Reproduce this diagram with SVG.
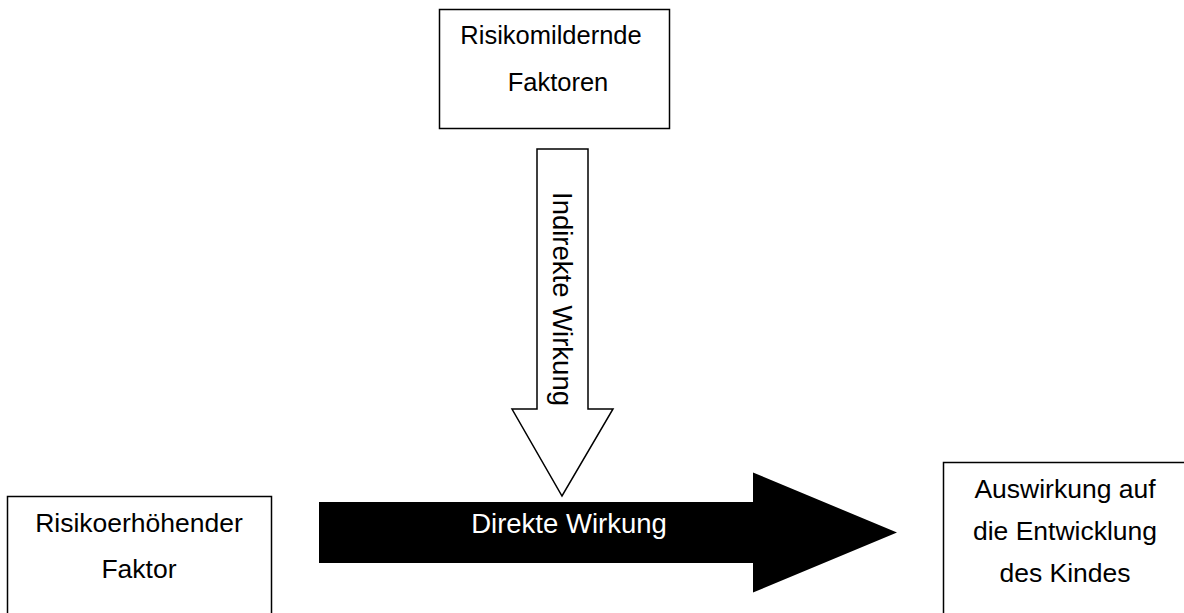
<svg xmlns="http://www.w3.org/2000/svg" width="1184" height="613" viewBox="0 0 1184 613">
<style>
.box{fill:#fff;stroke:#000;stroke-width:1.5}
.t{font-family:"Liberation Sans",Arial,sans-serif;font-size:26px;fill:#000;text-anchor:middle}
.w{fill:#fff}
</style>
<rect width="1184" height="613" fill="#fff"/>
<g id="connectors">
<g id="indirect">
<path d="M537,149 H588 V409 H613 L562,496 L512,409 H537 Z" fill="#fff" stroke="#000" stroke-width="1.5"/>
<text class="t" transform="translate(553,299) rotate(90)" style="font-size:27.5px">Indirekte Wirkung</text>
</g>
<g id="direct">
<path d="M319,502 H753 V472.5 L897,532.5 L753,592.5 V563 H319 Z" fill="#000"/>
<text class="t w" x="569" y="533" style="font-size:27.5px">Direkte Wirkung</text>
</g>
</g>
<g id="node-top">
<rect class="box" x="439.5" y="9.5" width="230" height="119"/>
<text class="t" x="551" y="44" style="font-size:25.5px">Risikomildernde</text>
<text class="t" x="558" y="91" style="font-size:25.5px">Faktoren</text>
</g>
<g id="node-left">
<rect class="box" x="7.5" y="496.5" width="264" height="130"/>
<text class="t" x="139" y="532" style="font-size:26.5px">Risikoerhöhender</text>
<text class="t" x="139" y="578" style="font-size:26.5px">Faktor</text>
</g>
<g id="node-right">
<rect class="box" x="943.5" y="462.5" width="250" height="160"/>
<text class="t" x="1065" y="498" style="font-size:26.5px">Auswirkung auf</text>
<text class="t" x="1065" y="540" style="font-size:26.5px">die Entwicklung</text>
<text class="t" x="1065" y="582" style="font-size:26.5px">des Kindes</text>
</g>
</svg>
